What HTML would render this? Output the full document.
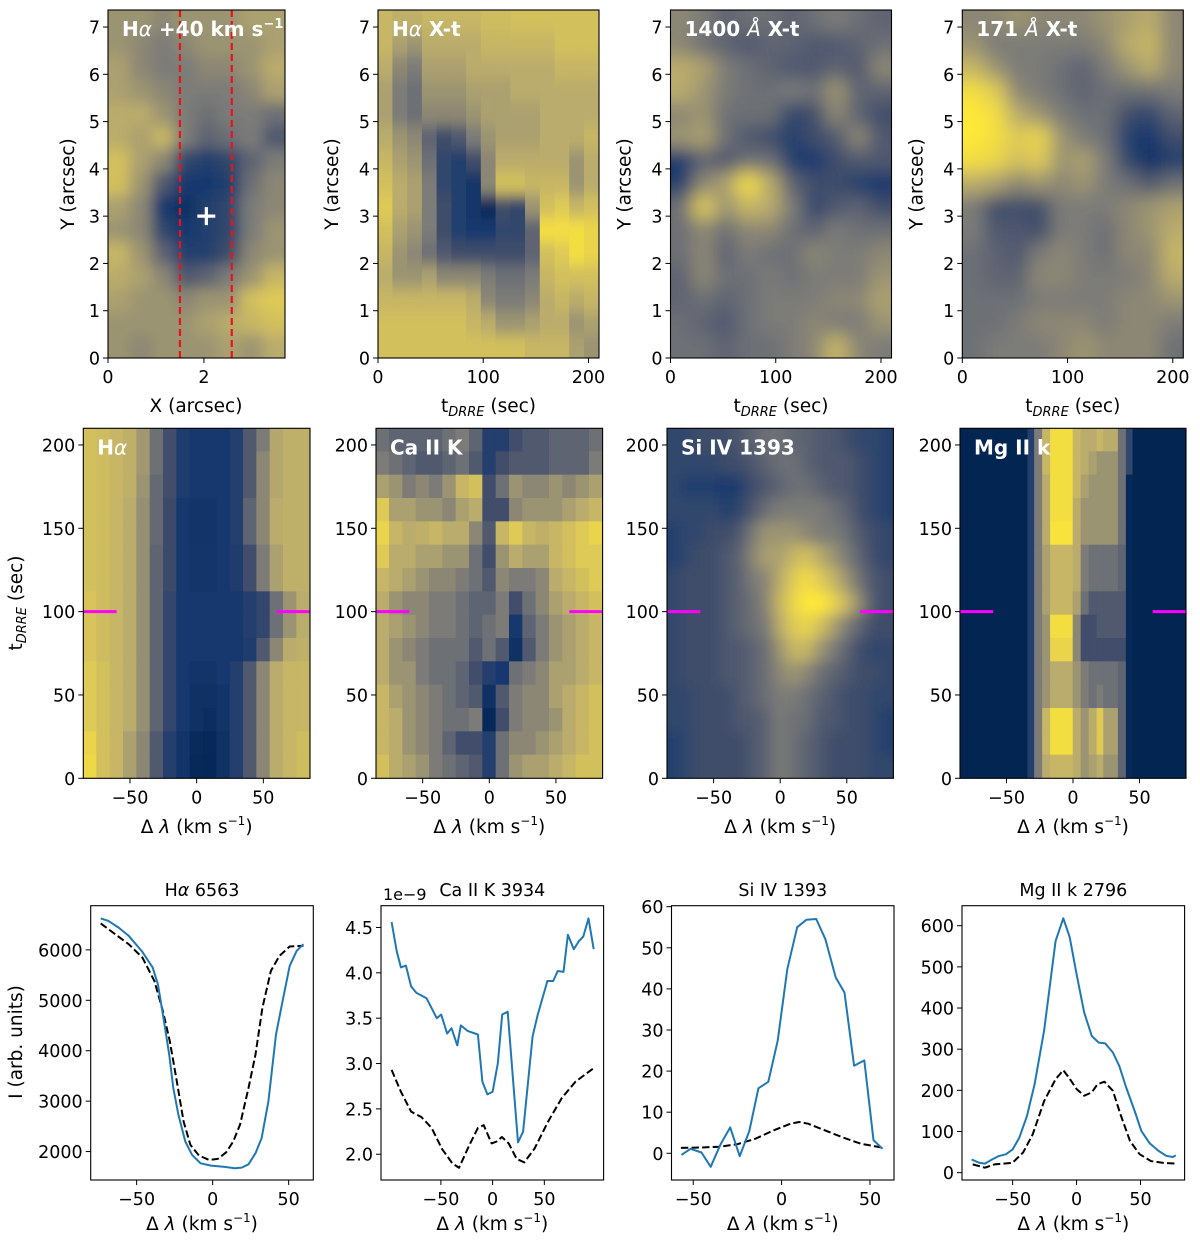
<!DOCTYPE html>
<html><head><meta charset="utf-8">
<style>
html,body{margin:0;padding:0;background:#fff;}
svg{display:block;font-family:"DejaVu Sans","Liberation Sans",sans-serif;}
</style></head>
<body>
<svg id="fig" width="1200" height="1247" viewBox="0 0 1200 1247" xmlns="http://www.w3.org/2000/svg">
<defs>
<filter id="blurA" x="-20%" y="-20%" width="140%" height="140%"><feGaussianBlur stdDeviation="7"/></filter>
<filter id="blurV" x="-20%" y="-20%" width="140%" height="140%"><feGaussianBlur stdDeviation="0 7"/></filter>
<filter id="blurS" x="-20%" y="-20%" width="140%" height="140%"><feGaussianBlur stdDeviation="9"/></filter>
</defs>
</svg>
<script>
// ---------- DATA ----------
const haImg = [
[.6,.6,.55,.6,.6,.6,.65,.65],
[.6,.55,.5,.55,.6,.6,.6,.65],
[.65,.55,.5,.5,.55,.55,.6,.7],
[.65,.6,.55,.5,.5,.5,.55,.65],
[.7,.7,.6,.5,.45,.5,.5,.45],
[.7,.65,.75,.5,.4,.45,.5,.35],
[.8,.65,.55,.25,.2,.25,.4,.5],
[.8,.6,.35,.15,.15,.2,.45,.55],
[.65,.55,.15,.1,.2,.25,.5,.55],
[.6,.55,.25,.15,.2,.25,.5,.6],
[.75,.6,.4,.2,.2,.3,.55,.6],
[.7,.65,.55,.35,.4,.5,.6,.75],
[.65,.6,.6,.55,.6,.6,.8,.85],
[.6,.6,.6,.6,.65,.7,.75,.8],
[.6,.55,.6,.6,.6,.65,.6,.7]];
const haXtCols = [
[.75,.75,.7,.65,.65,.7,.75,.8,.85,.8,.75,.7,.75,.8,.8],
[.72,.65,.55,.5,.5,.6,.65,.7,.7,.65,.6,.6,.75,.8,.8],
[.72,.6,.5,.45,.45,.55,.6,.65,.65,.6,.55,.6,.75,.8,.8],
[.75,.7,.65,.6,.55,.4,.45,.5,.5,.5,.45,.65,.75,.8,.8],
[.75,.7,.65,.6,.55,.3,.25,.25,.3,.3,.35,.55,.75,.8,.8],
[.75,.7,.65,.6,.55,.35,.2,.2,.2,.2,.3,.55,.75,.8,.8],
[.75,.7,.7,.65,.6,.5,.3,.12,.12,.15,.3,.55,.7,.75,.8],
[.78,.75,.7,.65,.65,.6,.55,.55,.05,.15,.3,.5,.55,.7,.8],
[.78,.75,.7,.65,.65,.65,.7,.8,.3,.25,.3,.45,.5,.6,.8],
[.8,.75,.7,.7,.65,.65,.7,.8,.25,.25,.3,.45,.5,.6,.8],
[.8,.75,.7,.7,.65,.65,.7,.75,.6,.4,.4,.5,.55,.65,.75],
[.8,.75,.7,.7,.7,.7,.7,.75,.8,.95,.8,.75,.7,.7,.75],
[.8,.8,.75,.7,.7,.7,.7,.75,.85,.95,.85,.8,.75,.7,.75],
[.8,.8,.75,.7,.7,.7,.6,.6,.75,.95,.95,.8,.7,.6,.65],
[.8,.8,.75,.7,.7,.75,.7,.7,.8,.9,.9,.8,.75,.65,.6]];
const xt1400 = [
[.55,.5,.4,.45,.45,.4,.45,.5,.45,.4],
[.55,.45,.4,.35,.4,.4,.35,.35,.4,.45],
[.7,.65,.5,.45,.4,.35,.35,.4,.35,.55],
[.7,.6,.5,.45,.45,.5,.45,.6,.4,.4],
[.55,.6,.45,.45,.45,.25,.3,.55,.4,.3],
[.6,.65,.45,.35,.3,.2,.3,.35,.55,.35],
[.15,.4,.35,.45,.45,.2,.15,.3,.35,.35],
[.2,.55,.65,.95,.7,.4,.3,.3,.2,.15],
[.45,.85,.6,.75,.7,.5,.25,.35,.4,.3],
[.45,.55,.45,.55,.55,.45,.4,.5,.45,.45],
[.45,.55,.4,.5,.45,.45,.55,.5,.5,.55],
[.4,.55,.45,.45,.5,.45,.5,.5,.5,.6],
[.4,.45,.4,.45,.5,.5,.5,.55,.55,.65],
[.45,.4,.35,.45,.5,.5,.55,.5,.5,.6],
[.45,.45,.4,.45,.45,.5,.55,.75,.55,.5]];
const xt171 = [
[.55,.55,.6,.55,.55,.55,.6,.65,.7,.55],
[.6,.5,.5,.5,.5,.5,.55,.7,.75,.55],
[.75,.6,.5,.5,.45,.4,.5,.6,.7,.55],
[.95,.85,.55,.5,.45,.4,.45,.45,.45,.5],
[1,.95,.7,.6,.5,.45,.45,.3,.25,.4],
[1,.95,.85,.9,.6,.5,.45,.2,.15,.3],
[.95,.9,.8,.85,.6,.65,.5,.25,.1,.2],
[.7,.65,.55,.6,.55,.6,.5,.45,.35,.45],
[.5,.3,.3,.3,.5,.5,.5,.55,.6,.65],
[.5,.35,.35,.3,.5,.5,.45,.55,.6,.7],
[.45,.4,.35,.5,.55,.5,.45,.55,.55,.75],
[.45,.4,.4,.55,.55,.5,.5,.5,.55,.7],
[.45,.45,.45,.5,.5,.5,.5,.55,.55,.6],
[.45,.45,.5,.55,.55,.55,.5,.55,.55,.5],
[.45,.5,.5,.5,.55,.6,.55,.55,.55,.45]];
const haSpec = [
[.8,.78,.75,.72,.62,.45,.3,.18,.15,.15,.15,.2,.35,.5,.68,.72,.72],
[.8,.78,.75,.72,.62,.45,.3,.18,.15,.15,.15,.2,.35,.55,.68,.72,.72],
[.8,.78,.75,.72,.6,.42,.3,.18,.15,.15,.15,.2,.35,.55,.68,.72,.72],
[.8,.78,.75,.7,.58,.42,.28,.15,.12,.12,.15,.2,.4,.55,.7,.72,.72],
[.8,.78,.75,.7,.58,.42,.28,.15,.12,.12,.15,.2,.4,.55,.7,.72,.72],
[.8,.78,.75,.7,.58,.4,.28,.15,.13,.13,.15,.18,.3,.5,.65,.72,.72],
[.8,.78,.75,.7,.58,.4,.28,.15,.13,.13,.15,.18,.3,.5,.65,.72,.72],
[.82,.78,.75,.7,.58,.4,.25,.15,.15,.15,.15,.15,.2,.25,.45,.6,.7],
[.82,.78,.75,.7,.58,.4,.25,.15,.15,.15,.15,.15,.2,.25,.45,.6,.7],
[.82,.78,.75,.7,.58,.4,.25,.15,.15,.15,.15,.15,.18,.35,.55,.7,.72],
[.85,.8,.75,.7,.58,.4,.25,.15,.12,.12,.15,.2,.35,.55,.7,.75,.75],
[.85,.8,.75,.7,.58,.4,.25,.15,.1,.1,.12,.2,.35,.55,.7,.75,.75],
[.85,.8,.75,.7,.58,.4,.25,.15,.1,.08,.12,.2,.35,.55,.7,.75,.75],
[.9,.8,.75,.65,.55,.35,.2,.12,.06,.05,.1,.2,.35,.55,.7,.75,.78],
[.92,.8,.75,.65,.55,.35,.2,.12,.05,.04,.1,.2,.35,.55,.7,.75,.78]];
const caSpec = [
[.45,.4,.4,.4,.4,.45,.5,.4,.2,.2,.3,.35,.35,.4,.4,.4,.45],
[.5,.45,.4,.35,.35,.4,.45,.35,.2,.3,.35,.35,.35,.4,.4,.4,.5],
[.65,.6,.5,.55,.5,.6,.75,.8,.3,.45,.6,.55,.55,.6,.55,.6,.65],
[.85,.65,.65,.6,.6,.55,.65,.7,.3,.3,.55,.6,.6,.6,.65,.7,.75],
[.9,.75,.7,.72,.75,.7,.7,.55,.35,.75,.85,.75,.72,.75,.8,.85,.9],
[.85,.7,.7,.65,.65,.6,.6,.45,.3,.6,.7,.65,.65,.75,.8,.85,.85],
[.75,.7,.65,.6,.55,.55,.5,.45,.35,.55,.5,.5,.55,.7,.75,.8,.85],
[.7,.6,.55,.55,.5,.5,.45,.4,.4,.5,.3,.45,.55,.65,.7,.75,.8],
[.7,.65,.6,.55,.5,.5,.45,.4,.45,.5,.15,.4,.5,.6,.65,.7,.75],
[.7,.6,.55,.5,.45,.45,.45,.35,.45,.35,.1,.35,.5,.6,.65,.7,.75],
[.7,.6,.6,.5,.45,.45,.4,.3,.2,.15,.45,.5,.55,.65,.65,.7,.75],
[.75,.65,.6,.55,.5,.45,.4,.35,.1,.35,.5,.55,.55,.65,.7,.75,.8],
[.75,.7,.6,.55,.5,.45,.45,.5,.05,.3,.5,.55,.55,.6,.7,.75,.8],
[.75,.7,.6,.55,.5,.4,.3,.3,.2,.45,.55,.55,.6,.65,.7,.75,.8],
[.8,.7,.65,.6,.5,.45,.4,.35,.2,.45,.6,.65,.65,.7,.75,.8,.8]];
const siSpec = [
[.25,.25,.3,.3,.3,.35,.4,.45,.45,.4,.4,.35,.35,.3,.25,.25,.2],
[.25,.25,.25,.25,.3,.3,.35,.4,.45,.45,.4,.35,.35,.35,.3,.25,.2],
[.25,.2,.2,.2,.15,.2,.3,.35,.4,.45,.45,.4,.35,.35,.3,.25,.2],
[.25,.25,.25,.25,.2,.25,.35,.45,.5,.5,.5,.5,.45,.4,.3,.25,.2],
[.2,.25,.25,.3,.3,.35,.5,.6,.6,.6,.55,.5,.5,.45,.35,.3,.25],
[.2,.25,.3,.3,.35,.4,.55,.65,.65,.75,.8,.7,.6,.5,.4,.3,.25],
[.25,.3,.3,.3,.35,.4,.5,.55,.7,.85,.95,.85,.75,.6,.45,.35,.3],
[.25,.3,.3,.3,.35,.4,.45,.55,.75,.9,1,1,.9,.75,.55,.35,.3],
[.25,.3,.3,.3,.35,.4,.45,.5,.7,.85,.9,.8,.65,.5,.4,.3,.3],
[.25,.3,.3,.3,.35,.35,.4,.45,.6,.75,.75,.6,.5,.4,.3,.25,.25],
[.25,.3,.3,.3,.35,.35,.4,.45,.55,.6,.55,.45,.4,.35,.3,.3,.25],
[.25,.25,.3,.3,.3,.35,.4,.45,.5,.5,.45,.4,.35,.3,.3,.25,.25],
[.25,.25,.3,.3,.3,.35,.35,.4,.5,.45,.45,.35,.35,.3,.3,.25,.2],
[.2,.25,.3,.3,.3,.3,.35,.4,.5,.45,.4,.35,.3,.3,.3,.25,.2],
[.2,.25,.3,.3,.3,.3,.35,.4,.5,.45,.4,.35,.3,.3,.3,.25,.25]];
const mgEdges = [-85,-34,-29,-23,-17,0,6,12,18,23,34,40,45,85];
const mgSpec = [
[.02,.2,.5,.75,.95,.75,.7,.7,.75,.7,.45,.25,.02],
[.02,.2,.5,.75,.95,.75,.7,.65,.6,.6,.45,.25,.02],
[.02,.2,.5,.7,.95,.75,.65,.6,.6,.6,.45,.05,.02],
[.02,.2,.5,.7,.95,.7,.6,.6,.6,.6,.45,.05,.02],
[.02,.2,.5,.7,.97,.7,.6,.6,.6,.6,.45,.05,.02],
[.02,.2,.5,.65,.75,.7,.5,.45,.45,.45,.4,.05,.02],
[.02,.2,.5,.65,.75,.7,.5,.45,.45,.45,.4,.05,.02],
[.02,.2,.5,.65,.75,.65,.45,.35,.35,.35,.35,.05,.02],
[.02,.2,.5,.6,.95,.55,.3,.3,.35,.35,.35,.05,.02],
[.02,.2,.5,.6,.9,.55,.3,.3,.3,.3,.3,.05,.02],
[.02,.2,.5,.6,.7,.6,.5,.45,.45,.45,.4,.05,.02],
[.02,.2,.5,.6,.7,.6,.5,.45,.5,.45,.4,.05,.02],
[.02,.2,.5,.75,.95,.7,.6,.7,.85,.65,.4,.05,.02],
[.02,.2,.5,.75,.95,.7,.6,.7,.85,.65,.4,.05,.02],
[.02,.2,.5,.7,.75,.7,.6,.65,.7,.6,.4,.05,.02]];
const haX  = [-73.6,-68.7,-61.9,-55.2,-46.2,-39.4,-36,-32.7,-28.6,-25.9,-22.5,-18,-13.5,-7.9,-1.1,7.9,14.6,19.1,23.6,28.2,32.2,36.7,41.7,46.2,50.7,55.2,59.7];
const haY  = [6624,6577,6444,6279,5960,5648,5317,4720,3924,3260,2730,2199,1934,1768,1721,1695,1668,1682,1748,1967,2265,2995,4322,5018,5682,5980,6113];
const haRX = [-73.6,-64.2,-55.2,-46.2,-38.3,-32.7,-28.2,-23.6,-19.1,-14.6,-9,-2.3,3.4,9,13.5,18,23.6,28.2,32.7,38.3,43.9,50.7,59.7];
const haRY = [6524,6312,6113,5847,5383,4786,4189,3393,2597,2133,1920,1834,1854,1987,2199,2531,3260,3924,4852,5582,5881,6066,6080];
const caX  = [-97.7,-92.7,-88.7,-83.8,-78.8,-73.8,-63.9,-54,-49.7,-44,-39.7,-34.1,-30.8,-24.2,-14.2,-9.9,-5,0,5,9.3,14.6,19.9,24.5,29.5,38.7,43.7,53,58.6,62.9,68.5,72.8,78.5,83.4,87.7,92.7,97.7];
const caY  = [4.56,4.24,4.06,4.08,3.85,3.78,3.72,3.5,3.54,3.33,3.39,3.2,3.42,3.36,3.32,2.8,2.66,2.69,3.0,3.54,3.57,2.8,2.13,2.25,3.3,3.54,3.91,3.91,4.02,4.01,4.42,4.26,4.35,4.4,4.6,4.26];
const caRX = [-97.7,-88.7,-78.8,-68.9,-59,-49,-39,-32.5,-22.5,-14.2,-8.6,-1,4,9,15.6,23.2,30.5,40.4,53.6,66.9,80.1,97.7];
const caRY = [2.93,2.69,2.47,2.41,2.29,2.06,1.9,1.85,2.1,2.29,2.32,2.12,2.14,2.19,2.12,1.95,1.91,2.06,2.36,2.62,2.8,2.95];
const siX  = [-56.7,-51.5,-45.3,-40.1,-34.5,-29.1,-23.7,-18.3,-13.1,-7.5,-2.2,3.2,8.8,14,19.6,24.8,30.6,35.6,41,46.8,52,57.1];
const siY  = [-0.4,1.1,0.2,-3.3,2.2,6.3,-0.7,5.4,15.8,17.4,27.4,44.8,55,56.8,57,52.1,42.8,39.1,21.3,22.6,3.2,1.1];
const siRX = [-57,-45,-35,-25,-15,-5,5,10,15,25,35,45,58];
const siRY = [1.3,1.4,1.6,2.2,3.5,5.5,7.2,7.6,7.2,5.5,3.8,2.3,1.3];
const mgX  = [-82.1,-76.1,-71.6,-67.2,-61.2,-55.2,-50.1,-44.8,-38.8,-32.8,-25.4,-16.4,-10.4,-5.4,0,6,11.9,17.3,22.4,28.4,33.4,38.8,45.4,50.7,57.3,64.2,70.1,75.2,77.6];
const mgY  = [32,24,22,30,40,45,56,85,138,215,345,563,618,572,482,389,332,316,314,292,259,207,150,101,71,53,41,38,42];
const mgRX = [-81.2,-71.6,-64.2,-50.1,-41.8,-34.3,-25.4,-16.4,-10.4,-6,0,6,11.9,16.4,21.8,28.4,34.3,41.8,49.3,58.2,67.2,77.6];
const mgRY = [20,12,20,24,49,93,174,227,249,231,203,187,195,215,221,199,142,77,45,28,24,22];
const yTicksRow1 = [0,1,2,3,4,5,6,7];
const tTicks = [0,100,200];
const xTicksImg = [0,2];
const tTicksRow2 = [0,50,100,150,200];
const lamTicks = [-50,0,50];
const haTicks = [2000,3000,4000,5000,6000];
const caTicks = [2.0,2.5,3.0,3.5,4.0,4.5];
const siTicks = [0,10,20,30,40,50,60];
const mgTicks = [0,100,200,300,400,500,600];
const markerT = 100;

// ---------- helpers ----------
const NS = "http://www.w3.org/2000/svg";
const svg = document.getElementById('fig');
function mk(tag, attrs, parent){ const e=document.createElementNS(NS,tag); for(const k in attrs) e.setAttribute(k,attrs[k]); (parent||svg).appendChild(e); return e; }
const stops=[[0,[0,34,78]],[0.15,[22,56,110]],[0.3,[65,77,107]],[0.5,[124,123,120]],[0.7,[186,172,108]],[0.85,[222,202,86]],[1,[254,232,56]]];
function cmap(v){ v=Math.max(0,Math.min(1,v)); for(let i=1;i<stops.length;i++){ if(v<=stops[i][0]){ const a=stops[i-1],b=stops[i]; const t=(v-a[0])/(b[0]-a[0]); const c=a[1].map((x,j)=>Math.round(x+(b[1][j]-x)*t)); return `rgb(${c[0]},${c[1]},${c[2]})`; } } return 'rgb(254,232,56)'; }
let clipN=0;
function axes(box, xlim, ylim){
  const sx=v=>box.x0+(v-xlim[0])/(xlim[1]-xlim[0])*(box.x1-box.x0);
  const sy=v=>box.y1-(v-ylim[0])/(ylim[1]-ylim[0])*(box.y1-box.y0);
  return {sx,sy,box,xlim,ylim};
}
function clipFor(box){ const id='c'+(clipN++); const cp=mk('clipPath',{id},svg.querySelector('defs')); mk('rect',{x:box.x0,y:box.y0,width:box.x1-box.x0,height:box.y1-box.y0},cp); return id; }
function heat(ax, grid, xEdges, yEdges, filter, name){
  const g=mk('g',{'clip-path':`url(#${clipFor(ax.box)})`});
  
  
  const inner=mk('g',filter?{filter:`url(#${filter})`}:{},g);
  const pad = filter?30:0;
  const nr=grid.length;
  for(let r=0;r<nr;r++){
    const nc=grid[r].length;
    for(let c=0;c<nc;c++){
      let xa=ax.sx(xEdges[c]), xb=ax.sx(xEdges[c+1]);
      let ya=ax.sy(yEdges[r]), yb=ax.sy(yEdges[r+1]);
      let x0=Math.min(xa,xb)-0.3, x1=Math.max(xa,xb)+0.3, y0=Math.min(ya,yb)-0.3, y1=Math.max(ya,yb)+0.3;
      if(c===0) x0-=pad; if(c===nc-1) x1+=pad; if(r===0) y0-=pad; if(r===nr-1) y1+=pad;
      const rc=mk('rect',{x:x0,y:y0,width:x1-x0,height:y1-y0,fill:cmap(grid[r][c])},inner);
      
      
    }
  }
  return g;
}
function uni(a,b,n){ const e=[]; for(let i=0;i<=n;i++) e.push(a+(b-a)*i/n); return e; }
function frame(ax, name){
  const b=ax.box; const r=mk('rect',{x:b.x0,y:b.y0,width:b.x1-b.x0,height:b.y1-b.y0,fill:'none',stroke:'#000','stroke-width':1.1});
  
  
}
function xticks(ax, ticks, fmt){
  for(const t of ticks){ const x=ax.sx(t);
    mk('line',{x1:x,x2:x,y1:ax.box.y1,y2:ax.box.y1+5,stroke:'#000','stroke-width':1});
    const tx=mk('text',{x:x,y:ax.box.y1+25,'text-anchor':'middle','font-size':17.5,fill:'#000'}); tx.textContent=fmt?fmt(t):String(t).replace('-','\u2212');
    
    
  }
}
function yticks(ax, ticks, fmt){
  for(const t of ticks){ const y=ax.sy(t);
    mk('line',{x1:ax.box.x0-5,x2:ax.box.x0,y1:y,y2:y,stroke:'#000','stroke-width':1});
    const tx=mk('text',{x:ax.box.x0-8,y:y+6.5,'text-anchor':'end','font-size':17.5,fill:'#000'}); tx.textContent=fmt?fmt(t):String(t).replace('-','\u2212');
    
    
  }
}
function label(x,y,html,opts,name){
  const t=mk('text',Object.assign({x,y,'font-size':18.5,fill:'#000','text-anchor':'middle'},opts||{}));
  t.innerHTML=html;
  
  
  return t;
}
function panelTitle(ax, html, name){
  const t=mk('text',{x:ax.box.x0+14,y:ax.box.y0+26,'font-size':20,'font-weight':'bold',fill:'#fff'});
  t.innerHTML=html;
  
  
}
function line(ax, xs, ys, opts, name){
  const g=mk('g',{'clip-path':`url(#${clipFor(ax.box)})`});
  const d=xs.map((x,i)=>(i?'L':'M')+ax.sx(x).toFixed(1)+','+ax.sy(ys[i]).toFixed(1)).join(' ');
  const p=mk('path',Object.assign({d,fill:'none','stroke-linejoin':'round'},opts),g);
  
  
}
function marker(ax){
  for(const side of [0,1]){
    const xa = side? ax.sx(60):ax.sx(ax.xlim[0]);
    const xb = side? ax.sx(ax.xlim[1]):ax.sx(-60);
    const l=mk('line',{x1:xa,x2:xb,y1:ax.sy(markerT),y2:ax.sy(markerT),stroke:'#ff00ff','stroke-width':3});
    
    
  }
}
const tsub = 't<tspan font-size="13" font-style="italic" dy="4">DRRE</tspan><tspan dy="-4"> (sec)</tspan>';
const lamLab = '\u0394 <tspan font-style="italic">\u03bb</tspan> (km s<tspan font-size="12" dy="-8">\u22121</tspan><tspan dy="8">)</tspan>';

// ---------- ROW 1 ----------
const r1y=[10,358];
const A=axes({x0:108,x1:285,y0:r1y[0],y1:r1y[1]},[0,3.69],[0,7.36]);
heat(A,haImg,uni(0,3.69,8),uni(7.36,0,15),'blurA','halpha-image');
for(const xv of [1.5,2.58]){ const l=mk('line',{x1:A.sx(xv),x2:A.sx(xv),y1:r1y[0],y2:r1y[1],stroke:'#e8141c','stroke-width':2.2,'stroke-dasharray':'7,4'});   }
{ const cx=A.sx(2.05), cy=A.sy(3.0); const p=mk('path',{d:`M${cx-9},${cy}H${cx+9}M${cx},${cy-9}V${cy+9}`,stroke:'#fff','stroke-width':3.2});   }
frame(A,'panel-halpha-image'); xticks(A,xTicksImg); yticks(A,yTicksRow1);
panelTitle(A,'H<tspan font-style="italic" font-weight="normal">\u03b1</tspan> +40 km s<tspan font-size="13" dy="-8">\u22121</tspan>','panel-title');
label(196,412,'X (arcsec)',{},'x-axis-title');
label(74,184,'Y (arcsec)',{transform:'rotate(-90 74 184)'},'y-axis-title');

const rowXt=[[378,599,haXtCols,'col','blurV','H<tspan font-style="italic" font-weight="normal">\u03b1</tspan> X-t'],
             [670.5,891.5,xt1400,'row','blurS','1400 <tspan font-style="italic" font-weight="normal">\u00c5</tspan> X-t'],
             [962.3,1183.3,xt171,'row','blurS','171 <tspan font-style="italic" font-weight="normal">\u00c5</tspan> X-t']];
rowXt.forEach((p,i)=>{
  const ax=axes({x0:p[0],x1:p[1],y0:r1y[0],y1:r1y[1]},[0,210],[0,7.36]);
  let grid=p[2];
  if(p[3]==='col'){ grid=grid[0].map((_,r)=>grid.map(c=>c[r])); }
  heat(ax,grid,uni(0,210,grid[0].length),uni(7.36,0,grid.length),p[4],'xt-heatmap');
  frame(ax,'panel-xt'); xticks(ax,tTicks); yticks(ax,yTicksRow1);
  panelTitle(ax,p[5],'panel-title');
  const cx=(p[0]+p[1])/2;
  label(cx,412,tsub,{},'x-axis-title');
  label(p[0]-40,184,'Y (arcsec)',{transform:`rotate(-90 ${p[0]-40} 184)`},'y-axis-title');
});

// ---------- ROW 2 ----------
const r2y=[428.3,778.3];
const row2=[[83.3,310,haSpec,null,'H<tspan font-style="italic" font-weight="normal">\u03b1</tspan>'],
            [376,602.6,caSpec,null,'Ca II K'],
            [667,893.4,siSpec,'blurA','Si IV 1393'],
            [960,1186,mgSpec,null,'Mg II k']];
row2.forEach((p,i)=>{
  const ax=axes({x0:p[0],x1:p[1],y0:r2y[0],y1:r2y[1]},[-85,85],[0,210]);
  const xe = i===3? mgEdges : uni(-85,85,p[2][0].length);
  heat(ax,p[2],xe,uni(210,0,15),p[3],'spectral-heatmap');
  marker(ax);
  frame(ax,'panel-spectrum'); xticks(ax,lamTicks); yticks(ax,tTicksRow2);
  panelTitle(ax,p[4],'panel-title');
  label((p[0]+p[1])/2,833,lamLab,{},'x-axis-title');
});
label(22,603,tsub,{transform:'rotate(-90 22 603)'},'y-axis-title');

// ---------- ROW 3 ----------
const r3y=[905.7,1180];
const row3=[
 {x:[90.7,313.3], xl:[-80.2,66.2], yl:[1436,6876], yt:haTicks, s:[haX,haY], r:[haRX,haRY], title:'H<tspan font-style="italic">\u03b1</tspan> 6563', fmt:null},
 {x:[381,603.6], xl:[-107.9,107.3], yl:[1.716,4.74], yt:caTicks, s:[caX,caY], r:[caRX,caRY], title:'Ca II K 3934', fmt:v=>v.toFixed(1)},
 {x:[671.5,894], xl:[-62.3,63.6], yl:[-6.5,60.24], yt:siTicks, s:[siX,siY], r:[siRX,siRY], title:'Si IV 1393', fmt:null},
 {x:[962,1184.6], xl:[-89.6,84.5], yl:[-17.8,648.6], yt:mgTicks, s:[mgX,mgY], r:[mgRX,mgRY], title:'Mg II k 2796', fmt:null}];
row3.forEach((p,i)=>{
  const ax=axes({x0:p.x[0],x1:p.x[1],y0:r3y[0],y1:r3y[1]},p.xl,p.yl);
  line(ax,p.r[0],p.r[1],{stroke:'#000','stroke-width':2,'stroke-dasharray':'7.4,3.2'},'reference-profile');
  line(ax,p.s[0],p.s[1],{stroke:'#1f77b4','stroke-width':2},'drre-profile');
  frame(ax,'panel-profile'); xticks(ax,lamTicks); yticks(ax,p.yt,p.fmt);
  label((p.x[0]+p.x[1])/2,896,p.title,{'font-size':17.5},'panel-title');
  label((p.x[0]+p.x[1])/2,1230,lamLab,{},'x-axis-title');
});
label(383,900,'1e\u22129',{'text-anchor':'start','font-size':16},'offset-label');
label(22,1042,'I (arb. units)',{transform:'rotate(-90 22 1042)'},'y-axis-title');
</script>
</body></html>
